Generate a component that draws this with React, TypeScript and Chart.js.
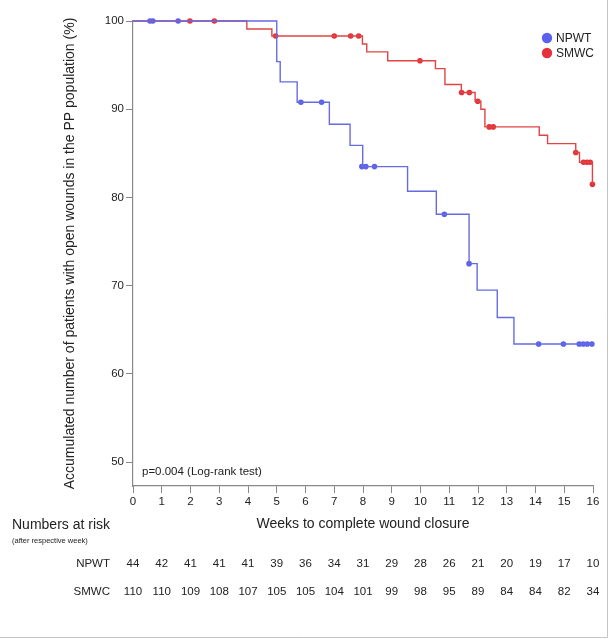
import React, { useEffect, useRef } from "react";
import { Chart, registerables } from "chart.js";

Chart.register(...registerables);

// ---- data ----
const weeks = [0, 1, 2, 3, 4, 5, 6, 7, 8, 9, 10, 11, 12, 13, 14, 15, 16];
const yTicks = [50, 60, 70, 80, 90, 100];

// Kaplan-Meier steps (time, survival after the event)
const npwtTimes = [0, 5.0, 5.12, 5.71, 6.83, 7.55, 7.99, 9.55, 10.55, 11.69, 11.97, 12.67, 13.25, 16];
const npwtValues = [100, 95.4, 93.1, 90.8, 88.3, 85.9, 83.5, 80.7, 78.1, 72.5, 69.5, 66.4, 63.4, 63.4];
const npwtCensorTimes = [0.59, 0.69, 1.57, 5.84, 6.56, 7.96, 8.1, 8.4, 10.83, 11.69, 14.11, 14.97, 15.52, 15.66, 15.8, 15.96];
const npwtCensorValues = [100, 100, 100, 90.8, 90.8, 83.5, 83.5, 83.5, 78.1, 72.5, 63.4, 63.4, 63.4, 63.4, 63.4, 63.4];

const smwcTimes = [0, 3.96, 4.83, 7.98, 8.13, 8.86, 10.52, 10.85, 11.42, 11.9, 12.1, 12.24, 14.13, 14.42, 15.4, 15.53, 15.98];
const smwcValues = [100, 99.1, 98.3, 97.4, 96.5, 95.5, 94.6, 92.8, 91.9, 90.9, 90.0, 88.0, 87.05, 86.1, 85.1, 84.0, 81.5];
const smwcCensorTimes = [1.98, 2.83, 4.96, 7.0, 7.57, 7.85, 9.98, 11.43, 11.7, 11.99, 12.39, 12.53, 15.4, 15.67, 15.79, 15.9, 15.98];
const smwcCensorValues = [100, 100, 98.3, 98.3, 98.3, 98.3, 95.5, 91.9, 91.9, 90.9, 88.0, 88.0, 85.1, 84.0, 84.0, 84.0, 81.5];

const npwtAtRisk = [44, 42, 41, 41, 41, 39, 36, 34, 31, 29, 28, 26, 21, 20, 19, 17, 10];
const smwcAtRisk = [110, 110, 109, 108, 107, 105, 105, 104, 101, 99, 98, 95, 89, 84, 84, 82, 34];

const seriesNames = ["NPWT", "SMWC"];

const BLUE = "#5b60ee";
const BLUE_LINE = "#676be2";
const RED = "#e5323a";
const RED_LINE = "#e04444";
const FONT = "'Liberation Sans', Arial, Helvetica, sans-serif";

const zip = (xs: number[], ys: number[]) => xs.map((x, i) => ({ x, y: ys[i] }));

export default function App() {
  const ref = useRef<HTMLCanvasElement | null>(null);

  useEffect(() => {
    const canvas = ref.current;
    if (!canvas) return;

    const overlay = {
      id: "overlay",
      afterDraw(chart: any) {
        const ctx = chart.ctx as CanvasRenderingContext2D;
        const xs = chart.scales.x;
        ctx.save();
        ctx.fillStyle = "#222";
        ctx.textBaseline = "middle";

        // p-value
        ctx.font = `11.5px ${FONT}`;
        ctx.textAlign = "left";
        ctx.fillText("p=0.004 (Log-rank test)", 142, 472);

        // legend
        const legendColors = [BLUE, RED];
        seriesNames.forEach((name, i) => {
          const cy = 38 + i * 15;
          ctx.beginPath();
          ctx.fillStyle = legendColors[i];
          ctx.arc(547, cy, 5.2, 0, Math.PI * 2);
          ctx.fill();
          ctx.fillStyle = "#222";
          ctx.font = `12px ${FONT}`;
          ctx.fillText(name, 556, cy + 0.5);
        });

        // numbers at risk header
        ctx.font = `14px ${FONT}`;
        ctx.fillText("Numbers at risk", 12, 525);
        ctx.font = `7.5px ${FONT}`;
        ctx.fillText("(after respective week)", 12, 541);

        // rows
        const rows = [npwtAtRisk, smwcAtRisk];
        const rowY = [564, 592];
        rows.forEach((vals, r) => {
          ctx.font = `11.5px ${FONT}`;
          ctx.textAlign = "right";
          ctx.fillText(seriesNames[r], 110, rowY[r]);
          ctx.textAlign = "center";
          vals.forEach((v, i) => {
            ctx.fillText(String(v), xs.getPixelForValue(weeks[i]), rowY[r]);
          });
        });

        // frame
        ctx.strokeStyle = "#c4c4c4";
        ctx.lineWidth = 1;
        ctx.beginPath();
        ctx.moveTo(607.5, 0);
        ctx.lineTo(607.5, 637.5);
        ctx.lineTo(0, 637.5);
        ctx.stroke();
        ctx.restore();
      },
    };

    const chart = new Chart(canvas, {
      type: "line",
      data: {
        datasets: [
          {
            label: "NPWT",
            data: zip(npwtTimes, npwtValues),
            stepped: true,
            borderColor: BLUE_LINE,
            borderWidth: 1.4,
            pointRadius: 0,
            fill: false,
            clip: false,
          },
          {
            label: "SMWC",
            data: zip(smwcTimes, smwcValues),
            stepped: true,
            borderColor: RED_LINE,
            borderWidth: 1.4,
            pointRadius: 0,
            fill: false,
            clip: false,
          },
          {
            type: "scatter",
            label: "NPWT censored",
            data: zip(npwtCensorTimes, npwtCensorValues),
            backgroundColor: BLUE,
            borderColor: BLUE,
            pointRadius: 2.8,
            borderWidth: 0,
            clip: false,
          },
          {
            type: "scatter",
            label: "SMWC censored",
            data: zip(smwcCensorTimes, smwcCensorValues),
            backgroundColor: RED,
            borderColor: RED,
            pointRadius: 2.8,
            borderWidth: 0,
            clip: false,
          },
        ] as any,
      },
      options: {
        animation: false,
        responsive: false,
        devicePixelRatio: 1,
        layout: { padding: { top: 21, right: 16, left: 0, bottom: 0 } },
        plugins: { legend: { display: false }, tooltip: { enabled: false } },
        scales: {
          x: {
            type: "linear",
            min: 0,
            max: 16,
            afterBuildTicks: (s: any) => {
              s.ticks = weeks.map((v) => ({ value: v }));
            },
            afterFit: (s: any) => {
              s.height = 153;
            },
            ticks: {
              color: "#222",
              font: { family: FONT, size: 11.5 },
              padding: 2,
              maxRotation: 0,
              autoSkip: false,
            },
            grid: { drawOnChartArea: false, tickLength: 7, color: "#888", tickWidth: 1 },
            border: { color: "#888", width: 1.2 },
            title: {
              display: true,
              text: "Weeks to complete wound closure",
              color: "#222",
              font: { family: FONT, size: 14 },
              padding: { top: 0, bottom: 106 },
            },
          },
          y: {
            type: "linear",
            min: 47.3,
            max: 100,
            afterBuildTicks: (s: any) => {
              s.ticks = yTicks.map((v) => ({ value: v }));
            },
            afterFit: (s: any) => {
              s.width = 133;
            },
            ticks: {
              color: "#222",
              font: { family: FONT, size: 11.5 },
              padding: 2,
            },
            grid: { drawOnChartArea: false, tickLength: 7, color: "#888", tickWidth: 1 },
            border: { color: "#888", width: 1.2 },
            title: {
              display: true,
              text: "Accumulated number of patients with open wounds in the PP population (%)",
              color: "#222",
              font: { family: FONT, size: 14 },
              padding: { top: 62, bottom: 0 },
            },
          },
        },
      },
      plugins: [overlay],
    } as any);

    return () => chart.destroy();
  }, []);

  return (
    <div style={{ position: "absolute", left: 0, top: 0, width: 609, height: 639, background: "#fff" }}>
      <canvas ref={ref} width={609} height={639} style={{ display: "block" }} />
    </div>
  );
}
